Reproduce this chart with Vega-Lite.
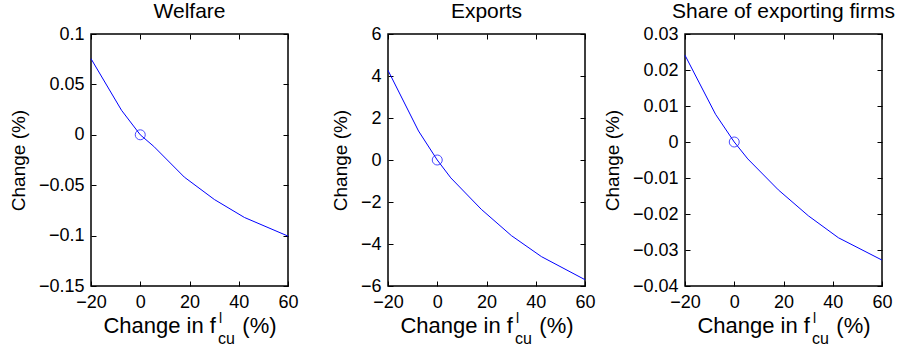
{
  "$schema": "https://vega.github.io/schema/vega-lite/v6.json",
  "padding": {"left": 8, "top": 0, "right": 0, "bottom": 0},
  "spacing": 100,
  "bounds": "flush",
  "datasets": {
    "welfare": [
      {"x": -20, "y": 0.0755}, {"x": -7.6, "y": 0.0243}, {"x": 0, "y": 0}, {"x": 5.5, "y": -0.0115},
      {"x": 17.9, "y": -0.042}, {"x": 30.1, "y": -0.0642}, {"x": 42.3, "y": -0.082}, {"x": 60, "y": -0.1005}
    ],
    "exports": [
      {"x": -20, "y": 4.27}, {"x": -7.6, "y": 1.38}, {"x": 0, "y": 0}, {"x": 5.5, "y": -0.85},
      {"x": 17.9, "y": -2.35}, {"x": 30.1, "y": -3.6}, {"x": 42.3, "y": -4.6}, {"x": 60, "y": -5.7}
    ],
    "share": [
      {"x": -20, "y": 0.0241}, {"x": -7.6, "y": 0.0077}, {"x": 0, "y": 0}, {"x": 5.5, "y": -0.0047},
      {"x": 17.9, "y": -0.0133}, {"x": 30.1, "y": -0.0205}, {"x": 42.3, "y": -0.0266}, {"x": 60, "y": -0.0328}
    ]
  },
  "hconcat": [
    {
      "width": 197, "height": 252,
      "title": "Welfare",
      "data": {"name": "welfare"},
      "layer": [
        {
          "mark": {"type": "line", "color": "#0000ff", "strokeWidth": 1},
          "encoding": {
            "x": {"field": "x", "type": "quantitative", "scale": {"domain": [-20, 60], "nice": false, "zero": false},
                  "axis": {"values": [-20, 0, 20, 40, 60], "title": "Change in f\u2003\u2009(%)"}},
            "y": {"field": "y", "type": "quantitative", "scale": {"domain": [-0.15, 0.1], "nice": false, "zero": false},
                  "axis": {"values": [-0.15, -0.1, -0.05, 0, 0.05, 0.1], "format": ".2~g", "title": "Change (%)"}}
          }
        },
        {
          "transform": [{"filter": "datum.x == 0"}],
          "mark": {"type": "point", "shape": "circle", "filled": false, "color": "#0000ff", "size": 100, "strokeWidth": 1},
          "encoding": {
            "x": {"field": "x", "type": "quantitative", "scale": {"domain": [-20, 60], "nice": false, "zero": false},
                  "axis": {"orient": "top", "values": [-20, 0, 20, 40, 60], "labels": false, "title": "cu", "titleFontSize": 16, "titleX": 135, "titleY": 309, "titleBaseline": "alphabetic", "titleAlign": "center"}},
            "y": {"field": "y", "type": "quantitative", "scale": {"domain": [-0.15, 0.1], "nice": false, "zero": false},
                  "axis": {"orient": "right", "values": [-0.15, -0.1, -0.05, 0, 0.05, 0.1], "labels": false, "title": "l", "titleFontSize": 14, "titleAngle": 0, "titleX": -68, "titleY": 288, "titleBaseline": "alphabetic", "titleAlign": "center"}}
          }
        }
      ],
      "resolve": {"axis": {"x": "independent", "y": "independent"}}
    },
    {
      "width": 197, "height": 252,
      "title": "Exports",
      "data": {"name": "exports"},
      "layer": [
        {
          "mark": {"type": "line", "color": "#0000ff", "strokeWidth": 1},
          "encoding": {
            "x": {"field": "x", "type": "quantitative", "scale": {"domain": [-20, 60], "nice": false, "zero": false},
                  "axis": {"values": [-20, 0, 20, 40, 60], "title": "Change in f\u2003\u2009(%)"}},
            "y": {"field": "y", "type": "quantitative", "scale": {"domain": [-6, 6], "nice": false, "zero": false},
                  "axis": {"values": [-6, -4, -2, 0, 2, 4, 6], "format": ".2~g", "title": "Change (%)"}}
          }
        },
        {
          "transform": [{"filter": "datum.x == 0"}],
          "mark": {"type": "point", "shape": "circle", "filled": false, "color": "#0000ff", "size": 100, "strokeWidth": 1},
          "encoding": {
            "x": {"field": "x", "type": "quantitative", "scale": {"domain": [-20, 60], "nice": false, "zero": false},
                  "axis": {"orient": "top", "values": [-20, 0, 20, 40, 60], "labels": false, "title": "cu", "titleFontSize": 16, "titleX": 135, "titleY": 309, "titleBaseline": "alphabetic", "titleAlign": "center"}},
            "y": {"field": "y", "type": "quantitative", "scale": {"domain": [-6, 6], "nice": false, "zero": false},
                  "axis": {"orient": "right", "values": [-6, -4, -2, 0, 2, 4, 6], "labels": false, "title": "l", "titleFontSize": 14, "titleAngle": 0, "titleX": -68, "titleY": 288, "titleBaseline": "alphabetic", "titleAlign": "center"}}
          }
        }
      ],
      "resolve": {"axis": {"x": "independent", "y": "independent"}}
    },
    {
      "width": 197, "height": 252,
      "title": "Share of exporting firms",
      "data": {"name": "share"},
      "layer": [
        {
          "mark": {"type": "line", "color": "#0000ff", "strokeWidth": 1},
          "encoding": {
            "x": {"field": "x", "type": "quantitative", "scale": {"domain": [-20, 60], "nice": false, "zero": false},
                  "axis": {"values": [-20, 0, 20, 40, 60], "title": "Change in f\u2003\u2009(%)"}},
            "y": {"field": "y", "type": "quantitative", "scale": {"domain": [-0.04, 0.03], "nice": false, "zero": false},
                  "axis": {"values": [-0.04, -0.03, -0.02, -0.01, 0, 0.01, 0.02, 0.03], "format": ".2~g", "title": "Change (%)"}}
          }
        },
        {
          "transform": [{"filter": "datum.x == 0"}],
          "mark": {"type": "point", "shape": "circle", "filled": false, "color": "#0000ff", "size": 100, "strokeWidth": 1},
          "encoding": {
            "x": {"field": "x", "type": "quantitative", "scale": {"domain": [-20, 60], "nice": false, "zero": false},
                  "axis": {"orient": "top", "values": [-20, 0, 20, 40, 60], "labels": false, "title": "cu", "titleFontSize": 16, "titleX": 135, "titleY": 309, "titleBaseline": "alphabetic", "titleAlign": "center"}},
            "y": {"field": "y", "type": "quantitative", "scale": {"domain": [-0.04, 0.03], "nice": false, "zero": false},
                  "axis": {"orient": "right", "values": [-0.04, -0.03, -0.02, -0.01, 0, 0.01, 0.02, 0.03], "labels": false, "title": "l", "titleFontSize": 14, "titleAngle": 0, "titleX": -68, "titleY": 288, "titleBaseline": "alphabetic", "titleAlign": "center"}}
          }
        }
      ],
      "resolve": {"axis": {"x": "independent", "y": "independent"}}
    }
  ],
  "config": {
    "font": "Liberation Sans",
    "background": "white",
    "view": {"stroke": "black", "strokeWidth": 1.5},
    "axis": {
      "grid": false, "domain": false, "labelFlush": false,
      "tickColor": "black", "tickSize": -5, "tickWidth": 1,
      "labelColor": "black", "labelFontSize": 18, "labelPadding": 12,
      "titleColor": "black", "titleFontSize": 22, "titleFontWeight": "normal", "titlePadding": 4
    },
    "axisY": {"titleFontSize": 19, "titlePadding": 10},
    "title": {"fontSize": 21, "fontWeight": "normal", "color": "black", "offset": 3}
  }
}
